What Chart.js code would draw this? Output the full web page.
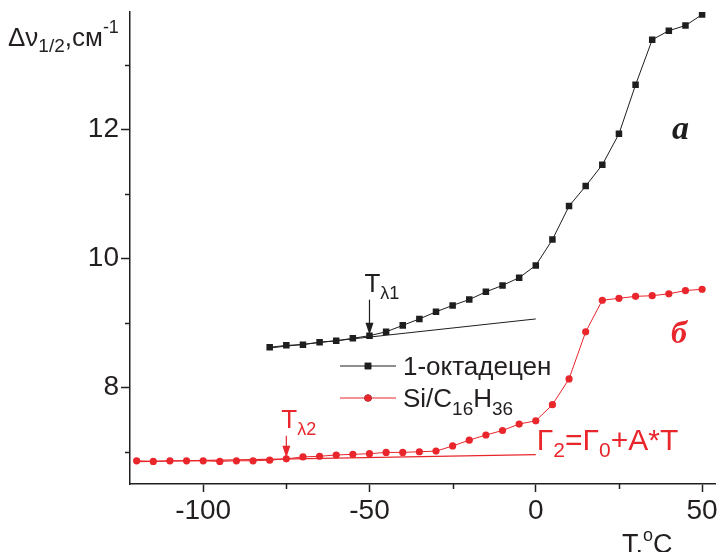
<!DOCTYPE html>
<html><head><meta charset="utf-8">
<script src="https://cdn.jsdelivr.net/npm/chart.js@4.4.1/dist/chart.umd.min.js"></script>
<style>html,body{margin:0;padding:0;background:#fff;}#wrap{width:720px;height:552px;position:relative;}</style>
</head><body><div id="wrap"><canvas id="c" width="720" height="552"></canvas></div>
<script>
// ---- data ----
const tempsOctadecene = [-80,-75,-70,-65,-60,-55,-50,-45,-40,-35,-30,-25,-20,-15,-10,-5,0,5,10,15,20,25,30,35,40,45,50];
const widthOctadecene = [8.62,8.65,8.66,8.70,8.72,8.76,8.80,8.86,8.96,9.06,9.17,9.27,9.36,9.48,9.58,9.70,9.89,10.29,10.81,11.12,11.45,11.93,12.69,13.39,13.53,13.61,13.78];
const tempsSi = [-120,-115,-110,-105,-100,-95,-90,-85,-80,-75,-70,-65,-60,-55,-50,-45,-40,-35,-30,-25,-20,-15,-10,-5,0,5,10,15,20,25,30,35,40,45,50];
const widthSi = [6.86,6.85,6.86,6.86,6.86,6.85,6.86,6.86,6.87,6.89,6.92,6.93,6.95,6.96,6.97,6.99,6.99,7.00,7.01,7.09,7.18,7.26,7.33,7.43,7.48,7.73,8.13,8.86,9.35,9.38,9.41,9.42,9.45,9.50,9.52];
const fitOctT = [-80, 0];
const fitOctV = [8.61, 9.06];
const fitSiT = [-120, 0];
const fitSiV = [6.846, 6.955];
const xMajorTicks = [-100,-50,0,50];
const xMinorTicks = [-75,-25,25];
const yMajorTicks = [8,10,12];
const yMinorTicks = [7,9,11,13];
const seriesNames = ['1-октадецен', 'Si/C16H36'];
const transitionT = [-50, -75];

const BLACK = '#1e1e1e', RED = '#e8262b', AXIS = '#231f20';
const SANS = "'Liberation Sans', Arial, sans-serif";

const pts = (xs, ys) => xs.map((x,i)=>({x, y: ys[i]}));

function drawRich(ctx, x, y, parts, color){
  ctx.save(); ctx.fillStyle = color; ctx.textBaseline = 'alphabetic'; ctx.textAlign='left';
  let cx = x;
  for (const p of parts){
    ctx.font = (p.style||'') + ' ' + p.size + 'px ' + (p.family||SANS);
    ctx.fillText(p.t, cx, y + (p.dy||0));
    cx += ctx.measureText(p.t).width + (p.gap||0);
  }
  ctx.restore();
}
function arrow(ctx, x, y0, y1, color){
  ctx.save(); ctx.strokeStyle=color; ctx.fillStyle=color; ctx.lineWidth=1.2;
  ctx.beginPath(); ctx.moveTo(x,y0); ctx.lineTo(x,y1-10); ctx.stroke();
  ctx.beginPath(); ctx.moveTo(x-4,y1-12); ctx.lineTo(x+4,y1-12); ctx.lineTo(x,y1); ctx.closePath(); ctx.fill();
  ctx.restore();
}

const annot = {
  id:'annot',
  afterDraw(chart){
    const ctx = chart.ctx, xs = chart.scales.x, ys = chart.scales.y, ca = chart.chartArea;
    // minor ticks
    ctx.save(); ctx.strokeStyle = AXIS; ctx.lineWidth = 1.5;
    for (const v of xMinorTicks){ const p = Math.round(xs.getPixelForValue(v))+0.5; ctx.beginPath(); ctx.moveTo(p, ca.bottom); ctx.lineTo(p, ca.bottom+5); ctx.stroke(); }
    for (const v of yMinorTicks){ const p = Math.round(ys.getPixelForValue(v))+0.5; ctx.beginPath(); ctx.moveTo(ca.left-5, p); ctx.lineTo(ca.left, p); ctx.stroke(); }
    ctx.restore();

    // transition arrows
    const i1 = tempsOctadecene.indexOf(transitionT[0]);
    const ax1 = xs.getPixelForValue(transitionT[0]), ay1 = ys.getPixelForValue(widthOctadecene[i1]) - 1;
    arrow(ctx, ax1, ay1-35, ay1, BLACK);
    drawRich(ctx, ax1-5, ay1-43, [{t:'T',size:26},{t:'λ1',size:18,dy:7}], BLACK);
    const i2 = tempsSi.indexOf(transitionT[1]);
    const ax2 = xs.getPixelForValue(transitionT[1]), ay2 = ys.getPixelForValue(widthSi[i2]) - 1;
    arrow(ctx, ax2, ay2-22, ay2, RED);
    drawRich(ctx, ax2-5, ay2-30, [{t:'T',size:26},{t:'λ2',size:18,dy:7}], RED);
    // fit formula
    const fx = xs.getPixelForValue(fitSiT[1]), fy = ys.getPixelForValue(fitSiV[1]);
    drawRich(ctx, fx+1, fy-5, [{t:'Γ',size:30},{t:'2',size:21,dy:7},{t:'=Γ',size:30},{t:'0',size:21,dy:7},{t:'+A*T',size:30}], RED);

    // curve labels
    drawRich(ctx, 672, 139, [{t:'a',size:34,style:'italic bold',family:"'Liberation Serif', serif"}], BLACK);
    drawRich(ctx, 671, 343, [{t:'б',size:32,style:'italic bold',family:"'Liberation Serif', serif"}], RED);

    // legend
    const ds = chart.data.datasets;
    const rows = [{d:ds[0], y:366, label:[{t:seriesNames[0],size:26}]},
                  {d:ds[1], y:398, label:[{t:'Si/C',size:26},{t:'16',size:19,dy:8},{t:'H',size:26},{t:'36',size:19,dy:8}]}];
    for (const r of rows){
      ctx.save(); ctx.strokeStyle = r.d.borderColor; ctx.lineWidth = r.d.borderWidth;
      ctx.beginPath(); ctx.moveTo(340, r.y); ctx.lineTo(396, r.y); ctx.stroke();
      Chart.helpers.drawPoint(ctx, {pointStyle:r.d.pointStyle, radius:r.d.pointRadius, borderWidth:0}, 368, r.y);
      ctx.fillStyle = r.d.pointBackgroundColor; ctx.fill();
      ctx.restore();
      drawRich(ctx, 403, r.y+9, r.label, AXIS);
    }

    // axis titles
    drawRich(ctx, 8, 46, [{t:'Δν',size:26},{t:'1/2',size:19,dy:6},{t:',см',size:26},{t:'-1',size:18,dy:-13}], AXIS);
    drawRich(ctx, 622, 553, [{t:'T,',size:27},{t:'o',size:18,dy:-12},{t:'C',size:27}], AXIS);
  }
};

new Chart(document.getElementById('c'), {
  type:'scatter',
  data:{datasets:[
    {label:seriesNames[0], data:pts(tempsOctadecene, widthOctadecene), showLine:true, borderColor:BLACK, borderWidth:1,
     pointStyle:'rect', pointRadius:4.6, pointBackgroundColor:BLACK, pointBorderWidth:0},
    {label:seriesNames[1], data:pts(tempsSi, widthSi), showLine:true, borderColor:RED, borderWidth:1,
     pointStyle:'circle', pointRadius:3.6, pointBackgroundColor:RED, pointBorderWidth:0},
    {label:'fit1', data:pts(fitOctT, fitOctV), showLine:true, borderColor:BLACK, borderWidth:1, pointRadius:0},
    {label:'fit2', data:pts(fitSiT, fitSiV), showLine:true, borderColor:RED, borderWidth:1.2, pointRadius:0}
  ]},
  options:{
    responsive:false, animation:false, devicePixelRatio:1,
    layout:{padding:{top:12,right:3,left:0,bottom:0}},
    plugins:{legend:{display:false}, tooltip:{enabled:false}},
    scales:{
      x:{type:'linear', min:-122, max:54,
        afterBuildTicks:s=>{s.ticks = xMajorTicks.map(v=>({value:v}));},
        afterFit:s=>{s.height = 68; s.paddingLeft = 0; s.paddingRight = 0;},
        grid:{drawOnChartArea:false, tickLength:8, tickColor:AXIS, tickWidth:1.5},
        border:{color:AXIS, width:1.5},
        ticks:{font:{family:SANS,size:28}, color:AXIS, padding:2, maxRotation:0, autoSkip:false}},
      y:{type:'linear', min:6.5, max:13.82,
        afterBuildTicks:s=>{s.ticks = yMajorTicks.map(v=>({value:v}));},
        afterFit:s=>{s.width = 130; s.paddingTop = 0; s.paddingBottom = 0;},
        grid:{drawOnChartArea:false, tickLength:9, tickColor:AXIS, tickWidth:1.5},
        border:{color:AXIS, width:1.5},
        ticks:{font:{family:SANS,size:28}, color:AXIS, padding:2}}
    }
  },
  plugins:[annot]
});
</script></body></html>
